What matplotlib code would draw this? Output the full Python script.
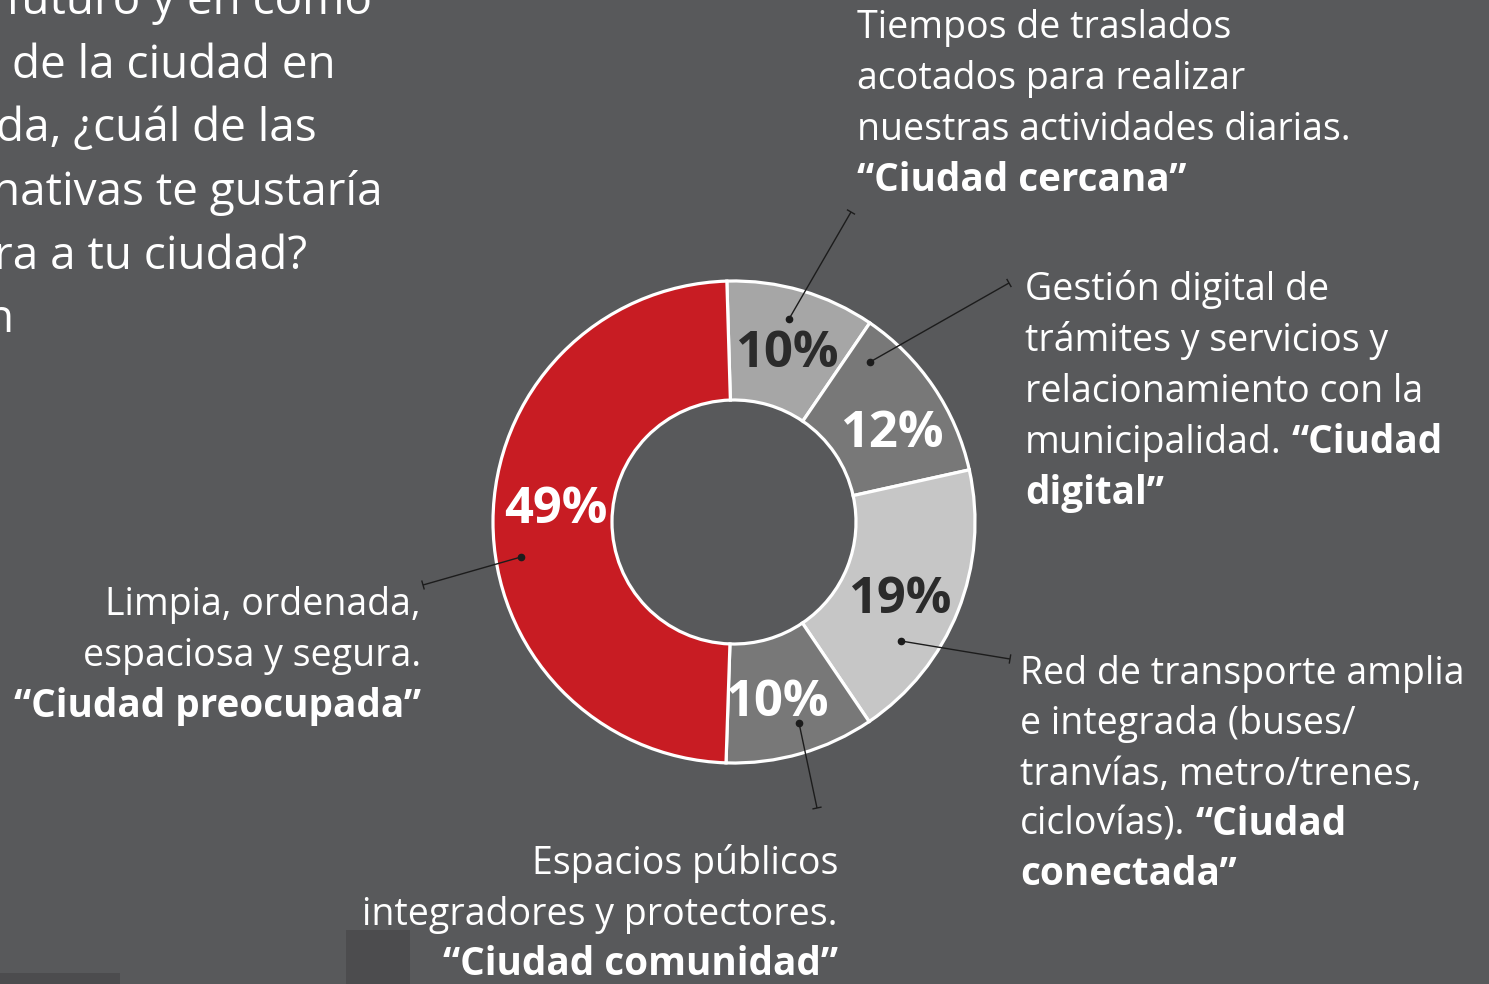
import matplotlib
matplotlib.use("Agg")
import matplotlib.pyplot as plt
from matplotlib.patches import Rectangle
import numpy as np

# ---------------- data ----------------
categories = ["Ciudad cercana", "Ciudad digital", "Ciudad conectada",
              "Ciudad comunidad", "Ciudad preocupada"]
values = [10, 12, 19, 10, 49]
pct_labels = ["10%", "12%", "19%", "10%", "49%"]

question_lines = ["futuro y en cómo", "de la ciudad en", "da, ¿cuál de las",
                  "nativas te gustaría", "ra a tu ciudad?", "n"]

label_cercana = [[("Tiempos de traslados", False)],
                 [("acotados para realizar", False)],
                 [("nuestras actividades diarias.", False)],
                 [("“Ciudad cercana”", True)]]
label_digital = [[("Gestión digital de", False)],
                 [("trámites y servicios y", False)],
                 [("relacionamiento con la", False)],
                 [("municipalidad.", False), ("“Ciudad", True)],
                 [("digital”", True)]]
label_conectada = [[("Red de transporte amplia", False)],
                   [("e integrada (buses/", False)],
                   [("tranvías, metro/trenes,", False)],
                   [("ciclovías).", False), ("“Ciudad", True)],
                   [("conectada”", True)]]
label_preocupada = [("Limpia, ordenada,", False),
                    ("espaciosa y segura.", False),
                    ("“Ciudad preocupada”", True)]
label_comunidad = [("Espacios públicos", False),
                   ("integradores y protectores.", False),
                   ("“Ciudad comunidad”", True)]

# ---------------- style ----------------
W, H = 1489, 984
BG = "#58595b"
FONT = "Open Sans"
colors = ["#a6a6a6", "#787878", "#c6c6c6", "#787878", "#c81c23"]
pct_colors = ["#2b2b2b", "white", "#2b2b2b", "white", "white"]

fig = plt.figure(figsize=(W / 100, H / 100), dpi=100, facecolor=BG)
ax = fig.add_axes([0, 0, 1, 1])


def Y(y):
    return H - y


# background decorations
ax.add_patch(Rectangle((346, Y(984)), 64, 54, color="#4c4c4e", zorder=0, lw=0))
ax.add_patch(Rectangle((0, Y(984)), 120, 11, color="#4c4c4e", zorder=0, lw=0))

cx, cy = 734, 522
R_out, R_in = 241, 122
ax.pie(values, colors=colors, startangle=91.7, counterclock=False,
       center=(cx, Y(cy)), radius=R_out,
       wedgeprops=dict(width=R_out - R_in, edgecolor="white", linewidth=2.3))

ax.set_xlim(0, W)
ax.set_ylim(0, H)
ax.set_aspect("auto")
ax.axis("off")

# percentage labels (center x, baseline y)
pct_pos = [(787, 367), (892, 447), (900, 613), (777, 716), (556, 523)]
for lab, (x, y), c in zip(pct_labels, pct_pos, pct_colors):
    ax.text(x, Y(y), lab, ha="center", va="baseline", fontsize=36.5,
            fontweight="bold", color=c, family=FONT, zorder=5)

# leader lines
leaders = [((789, 319), (851, 212)), ((870, 362), (1009, 283)),
           ((901, 641), (1010, 659)), ((799, 723), (817, 808)),
           ((521, 557), (423, 585))]
LC = "#1c1c1c"
for (x0, y0), (x1, y1) in leaders:
    ax.plot([x0, x1], [Y(y0), Y(y1)], color=LC, lw=1.0, zorder=6,
            solid_capstyle="butt")
    ax.plot([x0], [Y(y0)], "o", color=LC, ms=4.5, zorder=6)
    dx, dy = x1 - x0, Y(y1) - Y(y0)
    L = np.hypot(dx, dy)
    px, py = -dy / L, dx / L
    ax.plot([x1 - 4 * px, x1 + 4 * px], [Y(y1) - 4 * py, Y(y1) + 4 * py],
            color=LC, lw=1.0, zorder=6)

renderer = fig.canvas.get_renderer()
SIZE = 27
BSIZE = 27.8
GAP = 10


def left_block(x, baselines, lines):
    for y, parts in zip(baselines, lines):
        cur = x
        for txt, bold in parts:
            t = ax.text(cur, Y(y), txt, ha="left", va="baseline",
                        fontsize=BSIZE if bold else SIZE,
                        fontweight="bold" if bold else "normal", color="white",
                        family=FONT, zorder=5)
            bb = t.get_window_extent(renderer)
            cur = bb.x1 + GAP


def right_block(x, baselines, lines):
    for y, (txt, bold) in zip(baselines, lines):
        ax.text(x, Y(y), txt, ha="right", va="baseline",
                fontsize=BSIZE if bold else SIZE,
                fontweight="bold" if bold else "normal", color="white",
                family=FONT, zorder=5)


left_block(857, [38, 89, 140, 191], label_cercana)
left_block(1025, [300, 351, 402, 453, 504], label_digital)
left_block(1020, [684, 734, 785, 835, 885], label_conectada)
right_block(421, [615, 666, 717], label_preocupada)
right_block(838, [874, 925, 975], label_comunidad)

# cropped question text (top-left)
q_right = [372, 336, 317, 383, 307, 13]
q_base = [14, 78, 141, 205, 269, 332]
for txt, xr, yb in zip(question_lines, q_right, q_base):
    ax.text(xr, Y(yb), txt, ha="right", va="baseline", fontsize=33,
            color="white", family=FONT, zorder=5)

fig.savefig("out.png", dpi=100, facecolor=BG)
